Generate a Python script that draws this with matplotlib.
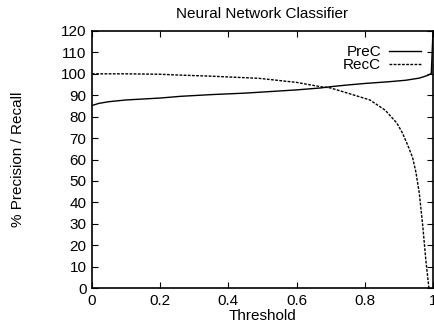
import matplotlib
matplotlib.use("Agg")
import matplotlib.pyplot as plt

plt.rcParams['font.family'] = ['Liberation Sans', 'DejaVu Sans']

title = "Neural Network Classifier"
xlabel = "Threshold"
ylabel = "% Precision / Recall"

pre_t = [0.0, 0.02, 0.05, 0.1, 0.2, 0.26, 0.35, 0.45, 0.5, 0.6, 0.67, 0.7, 0.75,
         0.8, 0.87, 0.92, 0.96, 0.985, 0.995, 1.0]
pre_v = [85.2, 86.2, 87.0, 87.8, 88.7, 89.5, 90.3, 91.0, 91.5, 92.5, 93.4, 94.0, 94.8,
         95.5, 96.3, 97.0, 98.0, 99.3, 100.2, 120.0]

rec_t = [0.0, 0.1, 0.2, 0.26, 0.35, 0.49, 0.6, 0.67, 0.7, 0.77, 0.815, 0.86, 0.894,
         0.91, 0.925, 0.94, 0.95, 0.96, 0.97, 0.979, 0.988]
rec_v = [100.0, 100.0, 99.8, 99.4, 98.9, 97.9, 96.0, 94.0, 93.4, 90.0, 87.8, 83.0, 77.0,
         72.5, 67.0, 61.0, 54.0, 44.0, 29.0, 13.0, 0.0]

xticks = [0, 0.2, 0.4, 0.6, 0.8, 1]
xticklabels = ["0", "0.2", "0.4", "0.6", "0.8", "1"]
yticks = list(range(0, 121, 10))

fig = plt.figure(figsize=(4.35, 3.27), dpi=100)
ax = fig.add_axes([92/435, 1-288/327, (433-92)/435, (288-31)/327])

ax.plot(pre_t, pre_v, color='black', lw=1.0, label='PreC')
ax.plot(rec_t, rec_v, color='black', lw=1.0, dashes=(2, 1), label='RecC')

ax.set_xlim(0, 1)
ax.set_ylim(0, 120)
ax.set_xticks(xticks)
ax.set_xticklabels(xticklabels)
ax.set_yticks(yticks)
ax.tick_params(direction='in', top=True, right=True, length=4, width=0.8,
               labelsize=11, pad=4)
for s in ax.spines.values():
    s.set_linewidth(1.2)

ax.set_title(title, fontsize=11, pad=9)
ax.set_xlabel(xlabel, fontsize=11, labelpad=1)
ax.set_ylabel(ylabel, fontsize=11, labelpad=26)

leg = ax.legend(loc='upper right', frameon=False, markerfirst=False, fontsize=11,
                handlelength=2.1, handletextpad=0.5, labelspacing=-0.05,
                borderaxespad=0.0, borderpad=0.0, bbox_to_anchor=(0.965, 0.945))
for t in leg.get_texts():
    t.set_ha('right')

fig.savefig("out.png", dpi=100)
